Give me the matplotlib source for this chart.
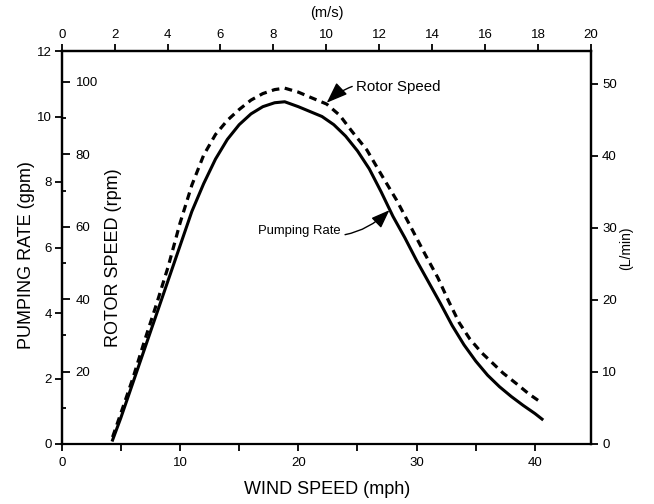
import matplotlib
matplotlib.use('Agg')
import matplotlib.pyplot as plt
from matplotlib.ticker import FixedLocator

# ---- data ----
wind_pump = [4.3, 5.0, 6.0, 7.0, 8.0, 9.0, 10.0, 11.0, 12.0, 13.0, 14.0, 15.0,
             16.0, 17.0, 18.0, 18.85, 20.0, 21.0, 22.0, 23.0, 24.0, 25.0, 26.0,
             27.0, 28.0, 29.0, 30.0, 31.0, 32.0, 33.0, 34.0, 35.0, 36.0, 37.0,
             38.0, 39.0, 40.0, 40.6]
pump_gpm = [0.12, 0.8, 1.85, 2.9, 3.95, 5.0, 6.05, 7.1, 7.95, 8.7, 9.3, 9.75,
            10.08, 10.3, 10.42, 10.45, 10.3, 10.15, 10.0, 9.75, 9.4, 8.95, 8.4,
            7.7, 6.95, 6.3, 5.6, 4.95, 4.3, 3.62, 3.03, 2.53, 2.1, 1.75,
            1.45, 1.18, 0.93, 0.76]

wind_rotor = [4.3, 5.0, 6.0, 7.0, 8.0, 9.0, 10.0, 11.0, 12.0, 13.0, 14.0, 15.0,
              16.0, 17.0, 18.0, 18.85, 20.0, 21.0, 22.4, 23.5, 24.5, 25.8, 27.0,
              28.3, 29.5, 30.7, 31.8, 32.7, 33.6, 34.5, 35.5, 36.5, 37.3, 38.5,
              39.5, 40.6]
rotor_rpm = [1.9, 8.5, 18.0, 28.5, 38.5, 49.0, 61.0, 71.5, 79.8, 85.5, 89.4, 92.4,
             95.0, 96.8, 97.9, 98.3, 97.2, 95.8, 93.9, 90.8, 86.5, 81.2, 74.5,
             67.4, 60.0, 52.5, 45.9, 39.5, 33.5, 29.0, 25.2, 22.1, 19.6, 16.5,
             13.8, 11.3]

mph_ticks = [0, 5, 10, 15, 20, 25, 30, 35, 40]
mph_labels = ['0', '', '10', '', '20', '', '30', '', '40']
ms_ticks = [0, 2, 4, 6, 8, 10, 12, 14, 16, 18, 20]
gpm_ticks = [0, 2, 4, 6, 8, 10, 12]
rpm_ticks = [20, 40, 60, 80, 100]
rpm_minor = [10, 30, 50, 70, 90]
lmin_ticks = [0, 10, 20, 30, 40, 50]

MPH_PER_MS = 2.23694

plt.rcParams['font.family'] = ['Liberation Sans', 'DejaVu Sans']

W, H = 654, 504
fig = plt.figure(figsize=(W / 100, H / 100), dpi=100)
x0, x1, y0, y1 = 61.7, 591, 51, 444
ax = fig.add_axes([x0 / W, 1 - y1 / H, (x1 - x0) / W, (y1 - y0) / H])
ax.set_xlim(0, 20 * MPH_PER_MS)
ax.set_ylim(0, 12)
for s in ax.spines.values():
    s.set_linewidth(1.6)
ax.set_xticks(mph_ticks)
ax.set_xticklabels(mph_labels)
ax.set_yticks(gpm_ticks)
ax.tick_params(axis='y', direction='out', length=5, width=1.3, labelsize=9.5, pad=2)
ax.tick_params(axis='x', direction='out', length=5, width=1.3, labelsize=9.5, pad=4)

# top axis (m/s)
sec = ax.secondary_xaxis('top', functions=(lambda x: x / MPH_PER_MS, lambda x: x * MPH_PER_MS))
sec.set_xticks(ms_ticks)
sec.tick_params(direction='out', length=5, width=1.3, labelsize=9.5, pad=2)
sec.spines['top'].set_linewidth(1.6)

# rotor speed axis (inside, on left spine)
axr = ax.twinx()
axr.set_ylim(0, (y1 - y0) / 3.62)
for k in ['top', 'bottom', 'left']:
    axr.spines[k].set_visible(False)
axr.spines['right'].set_position(('axes', 0.0))
axr.spines['right'].set_linewidth(1.6)
axr.yaxis.set_ticks_position('right')
axr.yaxis.set_major_locator(FixedLocator(rpm_ticks))
axr.yaxis.set_minor_locator(FixedLocator(rpm_minor))
axr.tick_params(axis='y', which='major', direction='out', length=6, width=1.3, labelsize=9.5, pad=4)
axr.tick_params(axis='y', which='minor', direction='out', length=3, width=1.3)
axr.plot(wind_rotor, rotor_rpm, color='black', lw=2.3, dashes=(2.4, 1.7))

# L/min axis on right
axl = ax.twinx()
axl.set_ylim(0, (y1 - y0) / 7.2)
for k in ['top', 'bottom', 'left']:
    axl.spines[k].set_visible(False)
axl.spines['right'].set_linewidth(1.6)
axl.set_yticks(lmin_ticks)
axl.tick_params(axis='y', direction='out', length=5, width=1.3, labelsize=9.5, pad=3)

# pumping rate curve
axl.set_zorder(1)
ax.set_zorder(3)
ax.patch.set_visible(False)
ax.plot(wind_pump, pump_gpm, color='black', lw=2.2)

# annotations
arrow = dict(arrowstyle='-|>,head_length=1.2,head_width=0.45', color='black',
             lw=1.0, connectionstyle='arc3,rad=0.3', shrinkA=1, shrinkB=0)
ax.annotate('Rotor Speed', xy=(22.4, 10.42), xytext=(24.9, 10.9), fontsize=10.8,
            ha='left', va='center', arrowprops=arrow)
ax.annotate('Pumping Rate', xy=(27.7, 7.14), xytext=(23.6, 6.5), fontsize=9.4,
            ha='right', va='center', arrowprops=arrow)

# axis titles
fig.text(27 / W, 1 - 255 / H, 'PUMPING RATE (gpm)', rotation=90, ha='center', va='center', fontsize=13)
fig.text(113 / W, 1 - 258 / H, 'ROTOR SPEED (rpm)', rotation=90, ha='center', va='center', fontsize=13)
fig.text(626 / W, 1 - 248 / H, '(L/min)', rotation=90, ha='center', va='center', fontsize=10)
fig.text(327 / W, 1 - 490 / H, 'WIND SPEED (mph)', ha='center', va='center', fontsize=13)
fig.text(327 / W, 1 - 13 / H, '(m/s)', ha='center', va='center', fontsize=10.5)

fig.savefig('out.png', dpi=100)
